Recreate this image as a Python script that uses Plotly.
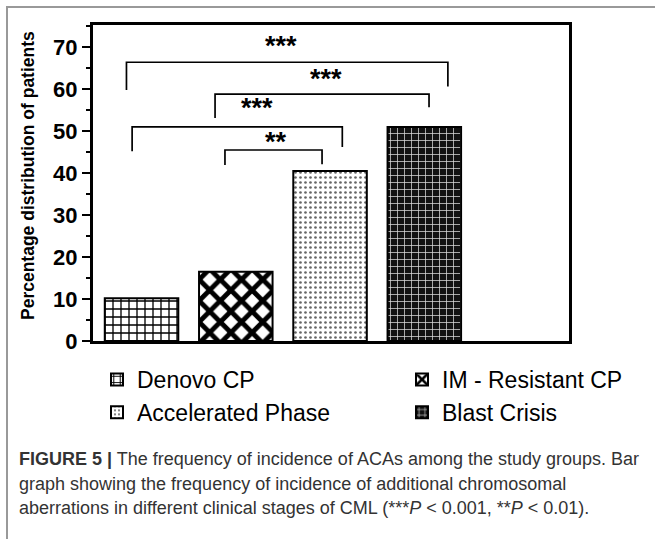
import plotly.graph_objects as go

# ---------------- data ----------------
categories = ["Denovo CP", "IM - Resistant CP", "Accelerated Phase", "Blast Crisis"]
values = [10.2, 16.5, 40.5, 51.0]
legend_group = ["legend", "legend2", "legend", "legend2"]

y_ticks = [0, 10, 20, 30, 40, 50, 60, 70]
y_minor_ticks = [5, 15, 25, 35, 45, 55, 65, 75]

# significance brackets (data units)
sig_x0 = [-0.16, 0.78, -0.10, 0.885]
sig_x1 = [3.25, 3.05, 2.13, 1.915]
sig_top = [66.4, 58.8, 51.0, 45.5]
sig_y0_end = [59.8, 53.1, 45.2, 41.9]
sig_y1_end = [60.6, 55.7, 46.2, 42.1]
sig_label = ["***", "***", "***", "**"]
sig_label_x = [1.48, 1.957, 1.225, 1.426]
sig_label_y = [70.2, 62.4, 55.5, 47.4]

caption_lines = [
    "<b>FIGURE 5 |</b> The frequency of incidence of ACAs among the study groups. Bar",
    "graph showing the frequency of incidence of additional chromosomal",
    "aberrations in different clinical stages of CML (***<i>P</i> &lt; 0.001, **<i>P</i> &lt; 0.01).",
]

# ---------------- layout geometry ----------------
W, H = 655, 539
L, R, T, B = 93, 569, 25, 341

def px(x):
    return (x - L) / (R - L)

def py(y):
    return (B - y) / (B - T)

SANS = "Liberation Sans, Arial, sans-serif"

patterns = [
    dict(shape="+", size=8, solidity=0.3, fgcolor="black", bgcolor="white", fgopacity=1),
    dict(shape="x", size=15, solidity=0.55, fgcolor="black", bgcolor="white", fgopacity=1),
    dict(shape=".", size=5, solidity=0.22, fgcolor="#666666", bgcolor="white", fgopacity=1),
    dict(shape="+", size=7, solidity=0.2, fgcolor="#dddddd", bgcolor="#111111", fgopacity=1),
]

fig = go.Figure()
for i, (cat, val) in enumerate(zip(categories, values)):
    fig.add_trace(go.Bar(
        x=[i], y=[val], name=cat, width=0.78, legend=legend_group[i],
        marker=dict(color=patterns[i]["bgcolor"], pattern=patterns[i],
                    line=dict(color="black", width=2)),
    ))

# brackets
bx, by = [], []
for x0, x1, top, e0, e1 in zip(sig_x0, sig_x1, sig_top, sig_y0_end, sig_y1_end):
    bx += [x0, x0, x1, x1, None]
    by += [e0, top, top, e1, None]
fig.add_trace(go.Scatter(x=bx, y=by, mode="lines", showlegend=False,
                         line=dict(color="black", width=1.7), hoverinfo="skip"))

annotations = []
for lab, lx, ly in zip(sig_label, sig_label_x, sig_label_y):
    annotations.append(dict(x=lx, y=ly, xref="x", yref="y", text="<b>" + lab + "</b>",
                            showarrow=False, font=dict(family=SANS, size=27, color="black"),
                            xanchor="center", yanchor="middle"))

# y axis title
annotations.append(dict(x=px(28), y=py(176), xref="paper", yref="paper",
                        text="<b>Percentage distribution of patients</b>", textangle=-90,
                        showarrow=False, font=dict(family=SANS, size=17.5, color="black"),
                        xanchor="center", yanchor="middle"))

# caption
for k, line in enumerate(caption_lines):
    annotations.append(dict(x=px(17), y=py(459 + 24.5 * k), xref="paper", yref="paper",
                            text=line, showarrow=False, align="left",
                            font=dict(family=SANS, size=18, color="#333333"),
                            xanchor="left", yanchor="middle"))

shapes = [
    dict(type="line", xref="paper", yref="paper", x0=px(7), x1=px(7), y0=py(6), y1=py(545),
         line=dict(color="#999999", width=2)),
    dict(type="line", xref="paper", yref="paper", x0=px(6), x1=px(660), y0=py(7), y1=py(7),
         line=dict(color="#999999", width=2)),
]

legend_common = dict(orientation="v", xanchor="left", yanchor="top",
                     xref="paper", yref="paper",
                     font=dict(family=SANS, size=23, color="black"),
                     traceorder="normal", tracegroupgap=0, bgcolor="rgba(0,0,0,0)")

fig.update_layout(
    width=W, height=H,
    margin=dict(l=L, r=W - R, t=T, b=H - B),
    paper_bgcolor="white", plot_bgcolor="white",
    showlegend=True,
    legend=dict(x=px(97), y=py(358), **legend_common),
    legend2=dict(x=px(402), y=py(358), **legend_common),
    annotations=annotations, shapes=shapes,
)
fig.update_xaxes(range=[-0.515, 4.535], showticklabels=False, ticks="",
                 showline=True, linewidth=3, linecolor="black", mirror=True,
                 showgrid=False, zeroline=False, fixedrange=True)
fig.update_yaxes(range=[0, 75.27], tickvals=y_ticks, ticks="outside", ticklen=8,
                 tickwidth=2, tickcolor="black",
                 minor=dict(tickvals=y_minor_ticks, ticks="outside",
                            ticklen=4, tickwidth=2, tickcolor="black"),
                 tickfont=dict(family=SANS, size=22, color="black", weight="bold"),
                 showline=True, linewidth=3, linecolor="black", mirror=True,
                 showgrid=False, zeroline=False, fixedrange=True)

fig.write_html("out.html", config={"displayModeBar": False},
               post_script="document.body.style.margin='0px';")
